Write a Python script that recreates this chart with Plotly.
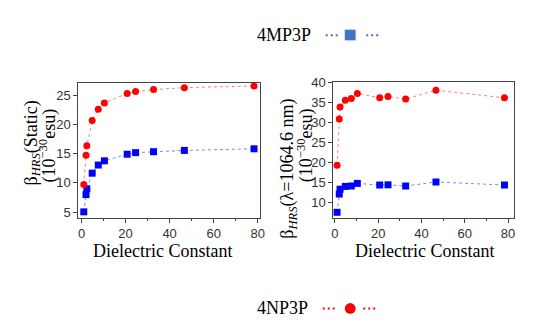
import plotly.graph_objects as go

# ---- data ----
dielectric = [1.0, 2.02, 2.38, 4.81, 7.58, 10.36, 20.7, 24.55, 32.7, 46.7, 78.36]
np_static = [9.73, 14.72, 16.33, 20.67, 22.6, 23.67, 25.28, 25.6, 25.95, 26.28, 26.56]
mp_static = [5.05, 8.0, 9.0, 11.66, 13.05, 13.77, 14.9, 15.17, 15.33, 15.55, 15.83]
np_1064 = [19.3, 30.8, 33.8, 35.5, 35.9, 37.2, 36.1, 36.4, 35.8, 38.0, 36.1]
mp_1064 = [7.55, 12.1, 13.3, 14.0, 14.1, 14.75, 14.35, 14.4, 14.1, 15.1, 14.35]
series_names = ["4MP3P", "4NP3P"]
x_title = "Dielectric Constant"
y_title_left = ["β<sub><i>HRS</i></sub>(Static)", "(10<sup>−30</sup>esu)"]
y_title_right = ["β<sub><i>HRS</i></sub>(λ=1064.6 nm)", "(10<sup>−30</sup>esu)"]

W, H = 537, 325
def px(x):
    return x / W
def py(y):
    return 1 - y / H

RED = "#ff0000"
BLUE = "#0000ff"
SERIF = "Liberation Serif"
SANS = "Liberation Sans"

fig = go.Figure()

def add(x, y, color, line_color, symbol, xa, ya):
    fig.add_trace(go.Scatter(
        x=x, y=y, mode="lines+markers", xaxis=xa, yaxis=ya, showlegend=False,
        line=dict(color=line_color, width=1, dash="dot"),
        marker=dict(color=color, symbol=symbol, size=7, line=dict(width=0)),
        cliponaxis=False,
    ))

add(dielectric, mp_static, BLUE, "rgba(0,0,255,0.5)", "square", "x", "y")
add(dielectric, np_static, RED, "rgba(255,0,0,0.5)", "circle", "x", "y")
add(dielectric, mp_1064, BLUE, "rgba(0,0,255,0.5)", "square", "x2", "y2")
add(dielectric, np_1064, RED, "rgba(255,0,0,0.5)", "circle", "x2", "y2")

axis_common = dict(
    showline=True, linecolor="#444", linewidth=1, mirror=True,
    ticks="outside", ticklen=4, tickcolor="#444", tickwidth=1,
    showgrid=False, zeroline=False,
    tickfont=dict(family=SANS, size=13, color="#333"),
)

fig.update_layout(
    width=W, height=H,
    margin=dict(l=0, r=0, t=0, b=0),
    paper_bgcolor="white", plot_bgcolor="white",
    showlegend=False,
    xaxis=dict(domain=[px(77.3), px(261.7)], range=[-1.5, 81.2], anchor="y",
               dtick=20, tick0=0,
               minor=dict(dtick=10, tick0=0, ticks="outside", ticklen=2, tickcolor="#444"),
               **axis_common),
    yaxis=dict(domain=[py(216.7), py(78.3)], range=[4.05, 27.05], anchor="x",
               dtick=5, tick0=0, **axis_common),
    xaxis2=dict(domain=[px(335.7), px(518.3)], range=[-0.73, 82.55], anchor="y2",
                dtick=20, tick0=0,
                minor=dict(dtick=10, tick0=0, ticks="outside", ticklen=2, tickcolor="#444"),
                **axis_common),
    yaxis2=dict(domain=[py(216.7), py(77.3)], range=[6.2, 40], anchor="x2",
                dtick=5, tick0=0, **axis_common),
)

annots = []
for cx in (163, 428):
    annots.append(dict(x=px(cx), y=py(251), xref="paper", yref="paper",
                       text=x_title, showarrow=False, xanchor="center", yanchor="middle",
                       font=dict(family=SERIF, size=18, color="black")))
for (cx, top), txt in zip([(31, 94), (47, 102)], y_title_left):
    annots.append(dict(x=px(cx), y=py(top), xref="paper", yref="paper", text=txt,
                       showarrow=False, textangle=-90, xanchor="center", yanchor="top",
                       font=dict(family=SERIF, size=18, color="black")))
for (cx, top), txt in zip([(290, 92), (308, 102)], y_title_right):
    annots.append(dict(x=px(cx), y=py(top), xref="paper", yref="paper", text=txt,
                       showarrow=False, textangle=-90, xanchor="center", yanchor="top",
                       font=dict(family=SERIF, size=18, color="black")))
annots.append(dict(x=px(256), y=py(29), xref="paper", yref="paper", text=series_names[0],
                   showarrow=False, xanchor="left", yanchor="middle",
                   font=dict(family=SERIF, size=18, color="black")))
annots.append(dict(x=px(256), y=py(310), xref="paper", yref="paper", text=series_names[1],
                   showarrow=False, xanchor="left", yanchor="middle",
                   font=dict(family=SERIF, size=18, color="black")))
fig.update_layout(annotations=annots)

LEG_BLUE = "#4472C4"
shapes = []
def dots(x0, x1, y, color):
    shapes.append(dict(type="line", xref="paper", yref="paper",
                       x0=px(x0), x1=px(x1), y0=py(y), y1=py(y),
                       line=dict(color=color, width=2, dash="2px,3px")))
dots(328, 342, 29, LEG_BLUE)
dots(369, 383, 29, LEG_BLUE)
shapes.append(dict(type="rect", xref="paper", yref="paper",
                   x0=px(347.3), x1=px(358.3), y0=py(34.3), y1=py(23.3),
                   fillcolor=LEG_BLUE, line=dict(width=0)))
dots(325, 339, 310, RED)
dots(366, 380, 310, RED)
shapes.append(dict(type="circle", xref="paper", yref="paper",
                   x0=px(347.3), x1=px(358.3), y0=py(315.5), y1=py(304.5),
                   fillcolor=RED, line=dict(width=0)))
fig.update_layout(shapes=shapes)

fig.write_html("out.html", config={"displayModeBar": False},
               post_script="document.body.style.margin='0';document.body.style.padding='0';")
